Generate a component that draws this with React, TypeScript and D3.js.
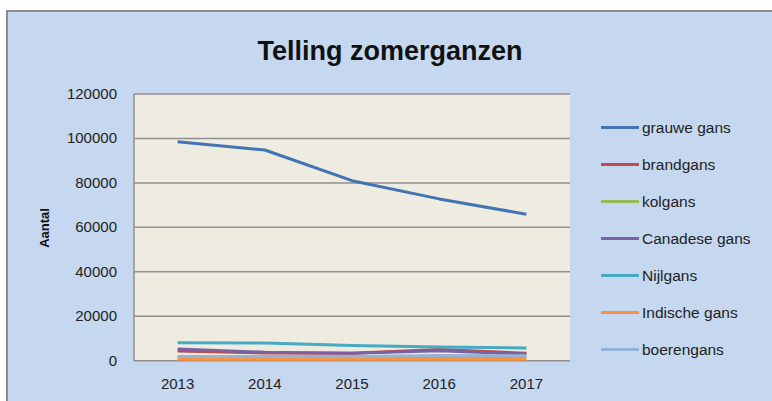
import React, { useEffect, useRef } from 'react';
import * as d3 from 'd3';

// Telling zomerganzen: yearly counts per species
const YEARS = ['2013', '2014', '2015', '2016', '2017'];
const Y_TICKS = [0, 20000, 40000, 60000, 80000, 100000, 120000];

const SERIES_NAMES = ['grauwe gans', 'brandgans', 'kolgans', 'Canadese gans', 'Nijlgans', 'Indische gans', 'boerengans'];
const SERIES_COLORS = ['#4274b3', '#be4b48', '#98b954', '#7d60a0', '#46aac5', '#f69240', '#95b3d7'];

const grauweGans = [98500, 94800, 81000, 72800, 65900];
const brandgans = [4400, 3500, 3400, 5000, 3400];
const kolgans = [1500, 1400, 1500, 1600, 1500];
const canadeseGans = [5300, 3800, 3300, 4500, 3000];
const nijlgans = [8100, 8000, 6800, 6200, 5700];
const indischeGans = [600, 600, 600, 700, 600];
const boerengans = [1900, 1900, 1900, 2300, 2200];

const SERIES_VALUES = [grauweGans, brandgans, kolgans, canadeseGans, nijlgans, indischeGans, boerengans];

const W = 772;
const H = 401;
const FONT = '"Liberation Sans", Arial, sans-serif';

const App: React.FC = () => {
  const svgRef = useRef<SVGSVGElement>(null);

  useEffect(() => {
    if (!svgRef.current) return;
    const svg = d3.select(svgRef.current);
    svg.selectAll('*').remove();

    // outer chart frame
    svg.append('rect').attr('width', W).attr('height', H).attr('fill', '#ffffff');
    svg.append('rect')
      .attr('x', 7)
      .attr('y', 11)
      .attr('width', W + 20)
      .attr('height', H + 20)
      .attr('fill', '#c5d8ef')
      .attr('stroke', '#8c8c8c')
      .attr('stroke-width', 2);

    const plot = { left: 134, top: 94, right: 570, bottom: 360.7 };

    const x = d3.scaleBand<string>().domain(YEARS).range([plot.left, plot.right]);
    const y = d3.scaleLinear().domain([0, 120000]).range([plot.bottom, plot.top]);

    // plot area
    svg.append('rect')
      .attr('x', plot.left)
      .attr('y', plot.top)
      .attr('width', plot.right - plot.left)
      .attr('height', plot.bottom - plot.top)
      .attr('fill', '#eeece1');

    // gridlines
    svg.append('g')
      .selectAll('line')
      .data(Y_TICKS)
      .enter()
      .append('line')
      .attr('x1', plot.left)
      .attr('x2', plot.right)
      .attr('y1', (d) => y(d))
      .attr('y2', (d) => y(d))
      .attr('stroke', '#8f8f8f')
      .attr('stroke-width', 1.5);

    svg.append('line')
      .attr('x1', plot.left)
      .attr('x2', plot.left)
      .attr('y1', plot.top)
      .attr('y2', plot.bottom)
      .attr('stroke', '#8f8f8f')
      .attr('stroke-width', 1.5);

    // y tick labels
    svg.append('g')
      .selectAll('text')
      .data(Y_TICKS)
      .enter()
      .append('text')
      .attr('x', 117)
      .attr('y', (d) => y(d) + 5)
      .attr('text-anchor', 'end')
      .attr('font-family', FONT)
      .attr('font-size', '15px')
      .attr('fill', '#222')
      .text((d) => String(d));

    // x tick labels
    svg.append('g')
      .selectAll('text')
      .data(YEARS)
      .enter()
      .append('text')
      .attr('x', (d) => (x(d) as number) + x.bandwidth() / 2)
      .attr('y', 389)
      .attr('text-anchor', 'middle')
      .attr('font-family', FONT)
      .attr('font-size', '15px')
      .attr('fill', '#222')
      .text((d) => d);

    // axis title
    svg.append('text')
      .attr('transform', 'translate(49,228) rotate(-90)')
      .attr('text-anchor', 'middle')
      .attr('font-family', FONT)
      .attr('font-size', '13px')
      .attr('font-weight', 'bold')
      .attr('fill', '#111')
      .text('Aantal');

    // title
    svg.append('text')
      .attr('x', 390)
      .attr('y', 60)
      .attr('text-anchor', 'middle')
      .attr('font-family', FONT)
      .attr('font-size', '27px')
      .attr('font-weight', 'bold')
      .attr('fill', '#111')
      .text('Telling zomerganzen');

    // lines
    const line = d3.line<number>()
      .x((_, i) => (x(YEARS[i]) as number) + x.bandwidth() / 2)
      .y((d) => y(d));

    SERIES_VALUES.forEach((vals, i) => {
      svg.append('path')
        .attr('d', line(vals) as string)
        .attr('fill', 'none')
        .attr('stroke', SERIES_COLORS[i])
        .attr('stroke-width', 3)
        .attr('stroke-linejoin', 'round');
    });

    // legend
    const legend = svg.append('g');
    SERIES_NAMES.forEach((name, i) => {
      const ly = 127.5 + i * 37;
      legend.append('line')
        .attr('x1', 601)
        .attr('x2', 639)
        .attr('y1', ly)
        .attr('y2', ly)
        .attr('stroke', SERIES_COLORS[i])
        .attr('stroke-width', 3);
      legend.append('text')
        .attr('x', 642)
        .attr('y', ly + 5)
        .attr('font-family', FONT)
        .attr('font-size', '15.5px')
        .attr('fill', '#222')
        .text(name);
    });
  }, []);

  return (
    <div style={{ position: 'fixed', left: 0, top: 0 }}>
      <svg ref={svgRef} width={W} height={H} style={{ display: 'block' }} />
    </div>
  );
};

export default App;
